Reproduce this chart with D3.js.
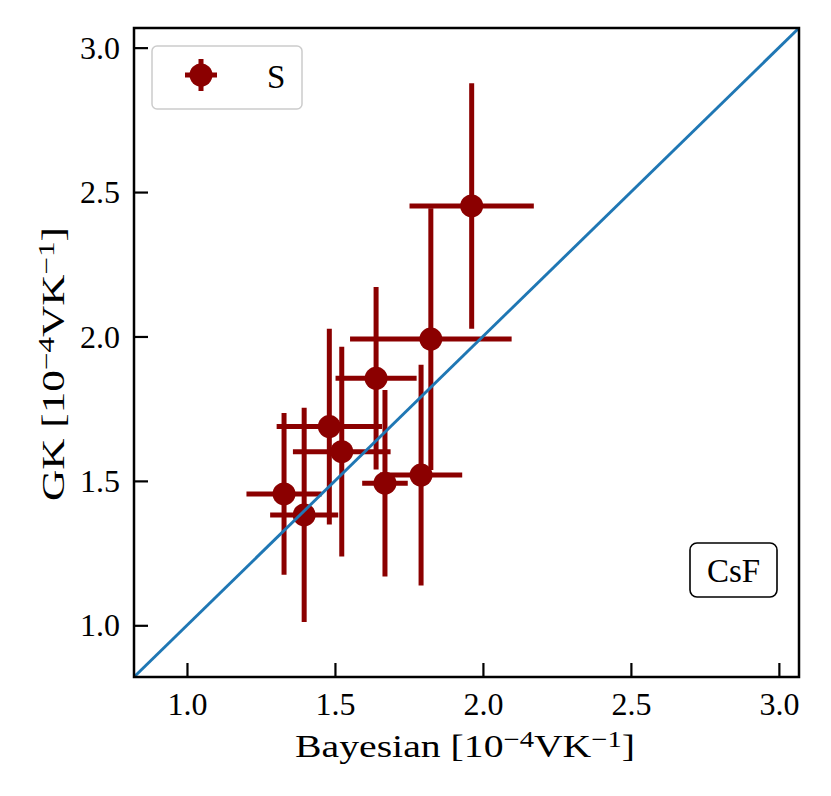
<!DOCTYPE html>
<html><head><meta charset="utf-8">
<script src="https://cdn.jsdelivr.net/npm/d3@7"></script>
<style>body{margin:0;background:#fff}</style>
</head><body>
<svg id="c" width="831" height="796"></svg>
<script>
const bayes    = [1.962, 1.824, 1.639, 1.481, 1.523, 1.669, 1.791, 1.328, 1.396];
const bayesErr = [0.210, 0.273, 0.137, 0.178, 0.165, 0.077, 0.139, 0.127, 0.115];
const gk       = [2.452, 1.991, 1.855, 1.688, 1.601, 1.492, 1.520, 1.455, 1.382];
const gkErr    = [0.425, 0.453, 0.316, 0.339, 0.363, 0.323, 0.382, 0.280, 0.371];
const ticks    = [1.0, 1.5, 2.0, 2.5, 3.0];
const domain   = [0.821, 3.068];
const seriesName = "S";
const annot = "CsF";

const svg = d3.select("#c");
const L=134, T=28, R=799, B=677;
const x = d3.scaleLinear().domain(domain).range([L,R]);
const y = d3.scaleLinear().domain(domain).range([B,T]);
const font = "'Liberation Serif', 'DejaVu Serif', serif";
const red = "#8b0000";

svg.append("clipPath").attr("id","cp").append("rect")
  .attr("x",L).attr("y",T).attr("width",R-L).attr("height",B-T);

const g = svg.append("g").attr("clip-path","url(#cp)");
const data = bayes.map((b,i)=>({x:b,xe:bayesErr[i],y:gk[i],ye:gkErr[i]}));

data.forEach(d=>{
  g.append("line").attr("x1",x(d.x-d.xe)).attr("x2",x(d.x+d.xe))
    .attr("y1",y(d.y)).attr("y2",y(d.y)).attr("stroke",red).attr("stroke-width",5);
  g.append("line").attr("x1",x(d.x)).attr("x2",x(d.x))
    .attr("y1",y(d.y-d.ye)).attr("y2",y(d.y+d.ye)).attr("stroke",red).attr("stroke-width",5);
});
g.selectAll("circle.pt").data(data).enter().append("circle")
  .attr("cx",d=>x(d.x)).attr("cy",d=>y(d.y)).attr("r",11.5).attr("fill",red);

g.append("line").attr("x1",x(domain[0])).attr("y1",y(domain[0]))
  .attr("x2",x(domain[1])).attr("y2",y(domain[1]))
  .attr("stroke","#1f77b4").attr("stroke-width",2.9);

const xa = svg.append("g").attr("transform",`translate(0,${B})`)
  .call(d3.axisBottom(x).tickValues(ticks).tickFormat(d3.format(".1f")).tickSizeInner(-14).tickSizeOuter(0).tickPadding(15));
const ya = svg.append("g").attr("transform",`translate(${L},0)`)
  .call(d3.axisLeft(y).tickValues(ticks).tickFormat(d3.format(".1f")).tickSizeInner(-14).tickSizeOuter(0).tickPadding(14));
[xa,ya].forEach(a=>{
  a.select(".domain").remove();
  a.selectAll(".tick line").attr("stroke","#000").attr("stroke-width",2.2);
  a.selectAll(".tick text").attr("font-family",font).attr("font-size",32).attr("fill","#000");
});
xa.selectAll(".tick text").attr("dy","0.71em");
ya.selectAll(".tick text").attr("dy","0.33em");

svg.append("rect").attr("x",L).attr("y",T).attr("width",R-L).attr("height",B-T)
  .attr("fill","none").attr("stroke","#000").attr("stroke-width",2.5);

function unitLabel(sel, name){
  sel.append("tspan").text(name+" [10");
  sel.append("tspan").attr("baseline-shift","42%").attr("font-size","72%").text("−4");
  sel.append("tspan").text("VK");
  sel.append("tspan").attr("baseline-shift","42%").attr("font-size","72%").text("−1");
  sel.append("tspan").text("]");
}
const xl = svg.append("text").attr("x",465).attr("y",757).attr("text-anchor","middle")
  .attr("font-family",font).attr("font-size",32)
  .attr("textLength",340).attr("lengthAdjust","spacingAndGlyphs");
unitLabel(xl,"Bayesian");
const yl = svg.append("text").attr("transform",`translate(64,364) rotate(-90)`)
  .attr("text-anchor","middle").attr("font-family",font).attr("font-size",32)
  .attr("textLength",274).attr("lengthAdjust","spacingAndGlyphs");
unitLabel(yl,"GK");

svg.append("rect").attr("x",152).attr("y",46).attr("width",150).attr("height",63).attr("rx",5)
  .attr("fill","#fff").attr("fill-opacity",0.8).attr("stroke","#cccccc").attr("stroke-width",1.5);
svg.append("line").attr("x1",185).attr("x2",217).attr("y1",75).attr("y2",75).attr("stroke",red).attr("stroke-width",5);
svg.append("line").attr("x1",201).attr("x2",201).attr("y1",59).attr("y2",91).attr("stroke",red).attr("stroke-width",5);
svg.append("circle").attr("cx",201).attr("cy",75).attr("r",11.5).attr("fill",red);
svg.append("text").attr("x",267).attr("y",88).attr("font-family",font).attr("font-size",33).text(seriesName);

svg.append("rect").attr("x",690).attr("y",543).attr("width",87).attr("height",54).attr("rx",7)
  .attr("fill","#fff").attr("stroke","#000").attr("stroke-width",1.6);
svg.append("text").attr("x",733.5).attr("y",582).attr("text-anchor","middle")
  .attr("font-family",font).attr("font-size",33).text(annot);
</script>
</body></html>
